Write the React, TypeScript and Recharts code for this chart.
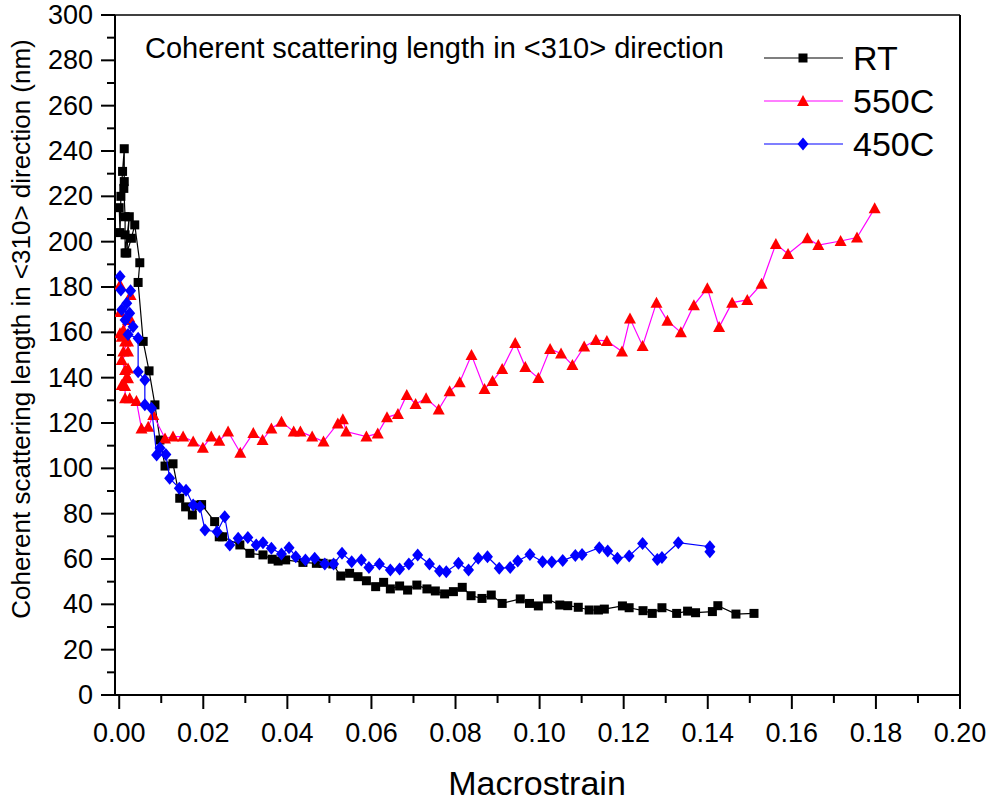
import { ScatterChart, Scatter, XAxis, YAxis, ReferenceLine, Customized } from 'recharts';

// RT (room temperature) series
const rtStrain = [
  0.0, 0.0002, 0.0004, 0.0008, 0.0012, 0.0012, 0.0011, 0.0014, 0.0014, 0.0014, 0.0024, 0.0018, 0.0029, 0.0037,
  0.0049, 0.0045, 0.0057, 0.0071, 0.0085, 0.0097, 0.0109, 0.0128, 0.0144, 0.0158, 0.0174, 0.019, 0.0196, 0.0227,
  0.0238, 0.0246, 0.0287, 0.0311, 0.0342, 0.0364, 0.0378, 0.0396, 0.0437, 0.0469, 0.0485, 0.0508, 0.0527, 0.0548,
  0.0568, 0.0588, 0.061, 0.0629, 0.0645, 0.0667, 0.0686, 0.0708, 0.0732, 0.0752, 0.0774, 0.0795, 0.0816, 0.0837,
  0.0863, 0.0885, 0.0911, 0.0954, 0.0976, 0.0997, 0.1019, 0.1048, 0.1067, 0.1092, 0.1118, 0.114, 0.1154, 0.1197,
  0.1213, 0.1246, 0.1268, 0.1291, 0.1326, 0.1352, 0.1371, 0.1411, 0.1424, 0.1467, 0.151,
];
const rtLength = [
  215, 204, 220, 231, 241, 226.5, 223.5, 211, 203, 195, 211, 195, 201.5, 207.4,
  190.7, 182, 156, 143, 128, 112.5, 101, 102, 86.8, 83, 79.4, 83.8, 84, 76.5,
  69.8, 69.8, 66.2, 62.5, 61.8, 59.9, 59.1, 59.6, 58.5, 58.1, 58.1, 57.8, 52.5, 53.7,
  52.2, 50.4, 47.8, 49.7, 46.8, 48.1, 46.3, 48.5, 46.8, 45.9, 44.6, 45.6, 47.5, 43.8,
  42.6, 44.1, 40.4, 42.4, 40.4, 39.3, 42.4, 39.7, 39.4, 38.7, 37.5, 37.5, 37.9, 39.3,
  38.5, 37.2, 36, 38.5, 36, 37, 36.3, 36.8, 39.4, 35.7, 36,
];

// 550C series
const s550Strain = [
  0.0002, 0.0027, 0.0002, 0.0024, 0.001, 0.0021, 0.0002, 0.0006, 0.0014, 0.0021, 0.001, 0.0021, 0.0006, 0.0014,
  0.0021, 0.0018, 0.0021, 0.0006, 0.0014, 0.0014, 0.0025, 0.0041, 0.0053, 0.0069, 0.0081, 0.0109, 0.0128, 0.0152,
  0.0176, 0.0199, 0.0219, 0.0238, 0.0259, 0.0288, 0.0319, 0.0341, 0.0362, 0.0386, 0.0415, 0.0431, 0.0459, 0.0486,
  0.052, 0.0532, 0.054, 0.0588, 0.0615, 0.0637, 0.0663, 0.0684, 0.0705, 0.073, 0.076, 0.0786, 0.081, 0.0838,
  0.0869, 0.0888, 0.0911, 0.0942, 0.0966, 0.0997, 0.1025, 0.1051, 0.1078, 0.1106, 0.1134, 0.116, 0.1196, 0.1215,
  0.1245, 0.1278, 0.1304, 0.1336, 0.1367, 0.1399, 0.1427, 0.1458, 0.1494, 0.1528, 0.1562, 0.1591, 0.1637, 0.1663,
  0.1716, 0.1755, 0.1797,
];
const s550Length = [
  181, 176.5, 169, 166.6, 161, 165.4, 159.6, 158, 156, 156, 151.5, 151.5, 147.8, 143.4,
  144, 140.4, 139.7, 136.8, 136.3, 130.9, 130.9, 129.7, 117.6, 118.4, 123.5, 113.2, 114, 114,
  111.8, 109.1, 114, 112.2, 116.2, 106.9, 115.6, 112.5, 117.6, 120.6, 116.2, 116.2, 114, 111.8,
  119.8, 121.6, 116.2, 114, 115.4, 122.5, 124, 132.4, 128.4, 130.9, 126, 134, 138, 150,
  135, 138.5, 143.8, 155.3, 144.7, 139.8, 152.6, 150.7, 145.6, 153.7, 156.6, 156.2, 151.5, 166.1,
  154, 173.1, 165.1, 160, 172, 179.4, 162.3, 173.1, 174.3, 181.4, 199, 194.6, 201.5, 198.5,
  200.3, 201.8, 214.7,
];

// 450C series
const s450Strain = [
  0.0002, 0.0004, 0.0027, 0.0018, 0.0006, 0.0025, 0.0014, 0.0033, 0.0021, 0.0045, 0.0045, 0.0061, 0.0061, 0.0077,
  0.0089, 0.0097, 0.0111, 0.012, 0.0143, 0.0159, 0.0176, 0.0192, 0.0204, 0.0233, 0.0251, 0.0263, 0.0283, 0.0306,
  0.0326, 0.0342, 0.0362, 0.0386, 0.0404, 0.042, 0.0443, 0.0465, 0.0489, 0.051, 0.053, 0.0553, 0.0576, 0.0594,
  0.0619, 0.0645, 0.0667, 0.0689, 0.071, 0.0738, 0.0762, 0.0778, 0.0807, 0.0831, 0.0854, 0.0876, 0.0904, 0.093,
  0.0948, 0.0977, 0.1007, 0.1029, 0.1055, 0.1085, 0.1101, 0.1142, 0.1162, 0.1185, 0.1213, 0.1245, 0.128, 0.1291,
  0.133, 0.1405, 0.1405,
];
const s450Length = [
  184.6, 178.7, 178.4, 172.8, 170, 168.4, 165.4, 162.5, 159, 157.4, 142.6, 139, 128, 126.5,
  105.9, 109, 106.1, 95.6, 91.2, 90.3, 83.8, 83, 72.8, 72, 78.6, 66.2, 69.1, 69.5,
  66.2, 67.2, 64.7, 62.2, 65, 61, 59.6, 60.3, 57.8, 57.8, 62.5, 58.8, 59.6, 56.3,
  57.8, 55.1, 55.6, 57.8, 61.8, 57.8, 54.7, 54.4, 58.1, 55.1, 60.3, 61, 55.9, 56.3,
  59.1, 62, 58.8, 58.7, 59.3, 61.5, 62, 65, 63.5, 60.3, 61.3, 66.8, 59.8, 60.7,
  67.2, 65.4, 63.2,
];

const xTicks = [
  0, 0.01, 0.02, 0.03, 0.04, 0.05, 0.06, 0.07, 0.08, 0.09, 0.1,
  0.11, 0.12, 0.13, 0.14, 0.15, 0.16, 0.17, 0.18, 0.19, 0.2,
];
const yTicks = [
  0, 10, 20, 30, 40, 50, 60, 70, 80, 90, 100, 110, 120, 130, 140, 150,
  160, 170, 180, 190, 200, 210, 220, 230, 240, 250, 260, 270, 280, 290, 300,
];

const FONT = '"Liberation Sans", Arial, sans-serif';

const toPoints = (xs: number[], ys: number[]) => xs.map((x, i) => ({ x, y: ys[i] }));
const rtData = toPoints(rtStrain, rtLength);
const s550Data = toPoints(s550Strain, s550Length);
const s450Data = toPoints(s450Strain, s450Length);

const Square = ({ cx, cy }: any) => <rect x={cx - 4.5} y={cy - 4.5} width={9} height={9} fill="#000" />;
const Triangle = ({ cx, cy }: any) => (
  <polygon points={`${cx},${cy - 6} ${cx - 6},${cy + 5} ${cx + 6},${cy + 5}`} fill="#ff0000" />
);
const Diamond = ({ cx, cy }: any) => (
  <polygon points={`${cx},${cy - 6.5} ${cx + 5.5},${cy} ${cx},${cy + 6.5} ${cx - 5.5},${cy}`} fill="#0000ff" />
);

const XTick = ({ x, y, payload }: any) => {
  const major = Math.round(payload.value * 100) % 2 === 0;
  return (
    <g>
      <line x1={x} x2={x} y1={y} y2={y + (major ? 14 : 8)} stroke="#000" strokeWidth={2} />
      {major && (
        <text x={x} y={y + 47} textAnchor="middle" fontSize={27} fontFamily={FONT} fill="#000">
          {payload.value.toFixed(2)}
        </text>
      )}
    </g>
  );
};

const YTick = ({ x, y, payload }: any) => {
  const major = payload.value % 20 === 0;
  return (
    <g>
      <line x1={x} x2={x - (major ? 14 : 8)} y1={y} y2={y} stroke="#000" strokeWidth={2} />
      {major && (
        <text x={x - 22} y={y + 9} textAnchor="end" fontSize={27} fontFamily={FONT} fill="#000">
          {payload.value}
        </text>
      )}
    </g>
  );
};

const legendItems = [
  { name: 'RT', line: '#000000', Shape: Square },
  { name: '550C', line: '#ff00ff', Shape: Triangle },
  { name: '450C', line: '#0000ff', Shape: Diamond },
];

// titles, note and legend drawn on top of the plot
const Overlay = () => (
  <g fontFamily={FONT} fill="#000">
    <text x={145} y={58} fontSize={29}>
      Coherent scattering length in &lt;310&gt; direction
    </text>
    <text x={537} y={795} textAnchor="middle" fontSize={34}>
      Macrostrain
    </text>
    <text transform="translate(30, 329) rotate(-90)" textAnchor="middle" fontSize={26}>
      Coherent scattering length in &lt;310&gt; direction (nm)
    </text>
    {legendItems.map((item, i) => {
      const cy = 58 + i * 43;
      return (
        <g key={item.name}>
          <line x1={764} x2={843} y1={cy} y2={cy} stroke={item.line} strokeWidth={1.2} />
          <item.Shape cx={803} cy={cy} />
          <text x={853} y={cy + 12} fontSize={34}>
            {item.name}
          </text>
        </g>
      );
    })}
  </g>
);

const App = () => {
  return (
    <div style={{ position: 'absolute', left: 0, top: 0, width: 993, height: 801, background: '#fff' }}>
      <ScatterChart width={993} height={801} margin={{ top: 15, right: 33, left: 55, bottom: 46 }}>
        <XAxis
          type="number"
          dataKey="x"
          domain={[-0.001, 0.2]}
          ticks={xTicks}
          interval={0}
          allowDataOverflow
          height={60}
          tickSize={0}
          tickMargin={0}
          tickLine={false}
          tick={<XTick />}
          axisLine={{ stroke: '#000', strokeWidth: 2 }}
        />
        <YAxis
          type="number"
          dataKey="y"
          domain={[0, 300]}
          ticks={yTicks}
          interval={0}
          allowDataOverflow
          width={60}
          tickSize={0}
          tickMargin={0}
          tickLine={false}
          tick={<YTick />}
          axisLine={{ stroke: '#000', strokeWidth: 2 }}
        />
        <ReferenceLine y={300} stroke="#000" strokeWidth={1.5} />
        <ReferenceLine x={0.2} stroke="#000" strokeWidth={2} />
        <Scatter
          name="RT"
          data={rtData}
          line={{ stroke: '#000000', strokeWidth: 1.2 }}
          shape={<Square />}
          isAnimationActive={false}
        />
        <Scatter
          name="550C"
          data={s550Data}
          line={{ stroke: '#ff00ff', strokeWidth: 1.2 }}
          shape={<Triangle />}
          isAnimationActive={false}
        />
        <Scatter
          name="450C"
          data={s450Data}
          line={{ stroke: '#0000ff', strokeWidth: 1.2 }}
          shape={<Diamond />}
          isAnimationActive={false}
        />
        <Customized component={Overlay} />
      </ScatterChart>
    </div>
  );
};

export default App;
